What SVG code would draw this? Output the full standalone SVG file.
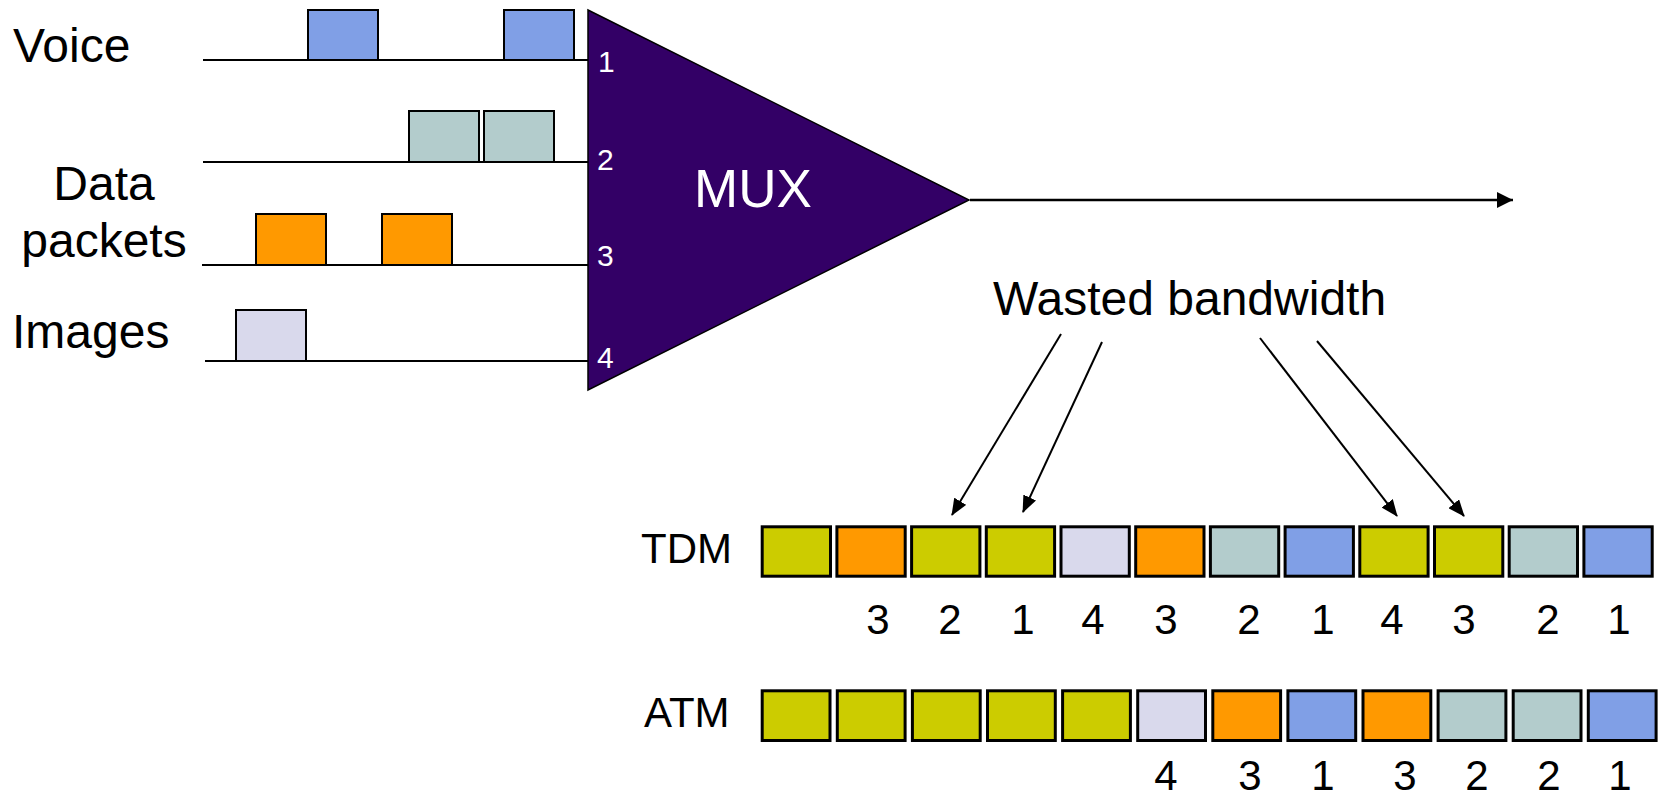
<svg xmlns="http://www.w3.org/2000/svg" width="1662" height="798" viewBox="0 0 1662 798">
<defs>
<style>
text{font-family:"Liberation Sans",Arial,sans-serif;fill:#000}
.lbl{font-size:48px}
.rowlbl{font-size:42px}
.num{font-size:42px;text-anchor:middle}
.pin{font-size:30px;fill:#fff}
.mux{font-size:53px;fill:#fff}
.line{stroke:#000;stroke-width:2;fill:none}
.pkt{stroke:#000;stroke-width:2}
.slot{stroke:#000;stroke-width:3}
.y{fill:#CCCC00}.o{fill:#FF9900}.t{fill:#B3CCCC}.b{fill:#809FE6}.l{fill:#D9D9EC}
</style>
<marker id="ah" markerUnits="userSpaceOnUse" markerWidth="17" markerHeight="14" viewBox="0 0 17 14" refX="16" refY="7" orient="auto">
<path d="M0,0 L17,7 L0,14 z" fill="#000"/>
</marker>
<marker id="ah2" markerUnits="userSpaceOnUse" markerWidth="16" markerHeight="16" viewBox="0 0 16 16" refX="16" refY="8" orient="auto">
<path d="M0,0 L16,8 L0,16 z" fill="#000"/>
</marker>
</defs>
<rect width="1662" height="798" fill="#fff"/>

<g id="connectors">
<line class="line" x1="203" y1="60" x2="588" y2="60"/>
<line class="line" x1="203" y1="162" x2="588" y2="162"/>
<line class="line" x1="202" y1="265" x2="588" y2="265"/>
<line class="line" x1="205" y1="361" x2="588" y2="361"/>
<line class="line" x1="970" y1="200" x2="1513" y2="200" style="stroke-width:2.5" marker-end="url(#ah2)"/>
<line class="line" x1="1061" y1="334" x2="952" y2="515" marker-end="url(#ah)"/>
<line class="line" x1="1102" y1="342" x2="1023" y2="512" marker-end="url(#ah)"/>
<line class="line" x1="1260" y1="338" x2="1397" y2="516" marker-end="url(#ah)"/>
<line class="line" x1="1317" y1="341" x2="1464" y2="516" marker-end="url(#ah)"/>
</g>

<g id="voice">
<text class="lbl" x="13" y="62">Voice</text>
<rect class="pkt b" x="308" y="10" width="70" height="50"/>
<rect class="pkt b" x="504" y="10" width="70" height="50"/>
</g>
<g id="data">
<text class="lbl" x="104" y="200" text-anchor="middle">Data</text>
<text class="lbl" x="104" y="257" text-anchor="middle">packets</text>
<rect class="pkt t" x="409" y="111" width="70" height="51"/>
<rect class="pkt t" x="484" y="111" width="70" height="51"/>
<rect class="pkt o" x="256" y="214" width="70" height="51"/>
<rect class="pkt o" x="382" y="214" width="70" height="51"/>
</g>
<g id="images">
<text class="lbl" x="12" y="348">Images</text>
<rect class="pkt l" x="236" y="310" width="70" height="51"/>
</g>

<g id="mux">
<polygon points="588,10 969,200 588,390" fill="#330066" stroke="#000" stroke-width="1.5"/>
<text class="mux" x="694" y="207">MUX</text>
<text class="pin" x="598" y="72">1</text>
<text class="pin" x="597" y="170">2</text>
<text class="pin" x="597" y="266">3</text>
<text class="pin" x="597" y="368">4</text>
</g>

<g id="wasted">
<text class="lbl" x="993" y="315">Wasted bandwidth</text>
</g>

<g id="tdm">
<text class="rowlbl" x="641" y="563">TDM</text>
<g transform="translate(762.2,526.8)">
<rect class="slot y" x="0" y="0" width="68.3" height="49.4"/>
<rect class="slot o" x="74.7" y="0" width="68.3" height="49.4"/>
<rect class="slot y" x="149.4" y="0" width="68.3" height="49.4"/>
<rect class="slot y" x="224.1" y="0" width="68.3" height="49.4"/>
<rect class="slot l" x="298.8" y="0" width="68.3" height="49.4"/>
<rect class="slot o" x="373.5" y="0" width="68.3" height="49.4"/>
<rect class="slot t" x="448.2" y="0" width="68.3" height="49.4"/>
<rect class="slot b" x="522.9" y="0" width="68.3" height="49.4"/>
<rect class="slot y" x="597.6" y="0" width="68.3" height="49.4"/>
<rect class="slot y" x="672.3" y="0" width="68.3" height="49.4"/>
<rect class="slot t" x="747" y="0" width="68.3" height="49.4"/>
<rect class="slot b" x="821.7" y="0" width="68.3" height="49.4"/>
</g>
<text class="num" x="878" y="634">3</text>
<text class="num" x="950" y="634">2</text>
<text class="num" x="1023" y="634">1</text>
<text class="num" x="1093" y="634">4</text>
<text class="num" x="1166" y="634">3</text>
<text class="num" x="1249" y="634">2</text>
<text class="num" x="1323" y="634">1</text>
<text class="num" x="1392" y="634">4</text>
<text class="num" x="1464" y="634">3</text>
<text class="num" x="1548" y="634">2</text>
<text class="num" x="1619" y="634">1</text>
</g>

<g id="atm">
<text class="rowlbl" x="644" y="727">ATM</text>
<g transform="translate(762.2,690.8)">
<rect class="slot y" x="0" y="0" width="67.8" height="49.7"/>
<rect class="slot y" x="75.1" y="0" width="67.8" height="49.7"/>
<rect class="slot y" x="150.2" y="0" width="67.8" height="49.7"/>
<rect class="slot y" x="225.3" y="0" width="67.8" height="49.7"/>
<rect class="slot y" x="300.4" y="0" width="67.8" height="49.7"/>
<rect class="slot l" x="375.5" y="0" width="67.8" height="49.7"/>
<rect class="slot o" x="450.6" y="0" width="67.8" height="49.7"/>
<rect class="slot b" x="525.7" y="0" width="67.8" height="49.7"/>
<rect class="slot o" x="600.8" y="0" width="67.8" height="49.7"/>
<rect class="slot t" x="675.9" y="0" width="67.8" height="49.7"/>
<rect class="slot t" x="751" y="0" width="67.8" height="49.7"/>
<rect class="slot b" x="826.1" y="0" width="67.8" height="49.7"/>
</g>
<text class="num" x="1166" y="790">4</text>
<text class="num" x="1250" y="790">3</text>
<text class="num" x="1323" y="790">1</text>
<text class="num" x="1405" y="790">3</text>
<text class="num" x="1477" y="790">2</text>
<text class="num" x="1549" y="790">2</text>
<text class="num" x="1620" y="790">1</text>
</g>
</svg>
